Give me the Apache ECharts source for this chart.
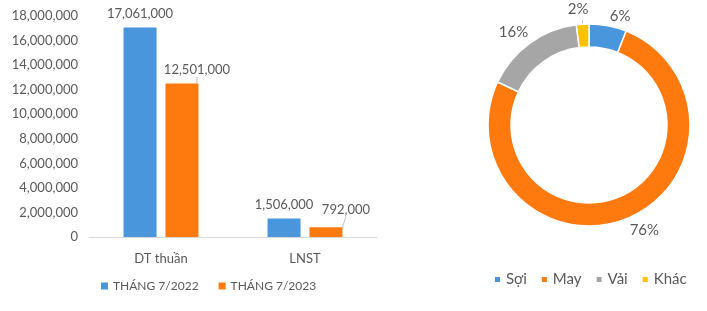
<!DOCTYPE html>
<html><head><meta charset="utf-8">
<script src="https://cdn.jsdelivr.net/npm/echarts@6/dist/echarts.min.js"></script>
<style>html,body{margin:0;padding:0;background:#fff}#c{width:707px;height:311px}</style>
</head><body><div id="c"></div>
<script>
const categories = ['DT thuần', 'LNST'];
const seriesNames = ['THÁNG 7/2022', 'THÁNG 7/2023'];
const values2022 = [17061000, 1506000];
const values2023 = [12501000, 792000];
const yTicks = [0, 2000000, 18000000];
const pieNames = ['Sợi', 'May', 'Vải', 'Khác'];
const pieValues = [6, 76, 16, 2];

const blue = '#4A96DC', orange = '#FF7A0E', gray = '#A6A6A6', yellow = '#FFC000';
const txt = '#595959';
const font = 'Lato';
const fmt = v => v.toLocaleString('en-US');
const pieShift = [{ dx: -4, dy: -6 }, { dx: -3, dy: 8 }, { dx: 6, dy: -8 }, { dx: 11, dy: -11 }];

const chart = echarts.init(document.getElementById('c'));
chart.setOption({
  animation: false,
  textStyle: { fontFamily: font },
  legend: [{
    data: seriesNames, left: 96, top: 275, itemWidth: 7, itemHeight: 7, itemGap: 20,
    textStyle: { color: txt, fontSize: 12, fontFamily: font }, icon: 'rect'
  }, {
    data: pieNames, left: 488, top: 267, itemWidth: 7, itemHeight: 7, itemGap: 13,
    textStyle: { color: txt, fontSize: 15, fontFamily: font }, icon: 'rect'
  }],
  grid: { left: 89, right: 330, top: 16, bottom: 74 },
  xAxis: {
    type: 'category', data: categories,
    axisLine: { lineStyle: { color: '#D9D9D9' } }, axisTick: { show: false },
    axisLabel: { color: txt, fontSize: 13, margin: 15, fontFamily: font }
  },
  yAxis: {
    type: 'value', min: yTicks[0], max: yTicks[2], interval: yTicks[1],
    splitLine: { show: false }, axisLine: { show: false }, axisTick: { show: false },
    axisLabel: { color: txt, fontSize: 13, margin: 11, formatter: fmt, fontFamily: font }
  },
  series: [{
    name: seriesNames[0], type: 'bar', data: values2022, barWidth: 33, barGap: '27%',
    itemStyle: { color: blue },
    label: { show: true, position: 'top', color: txt, fontSize: 13, distance: 7, formatter: p => fmt(p.value), fontFamily: font }
  }, {
    name: seriesNames[1], type: 'bar', data: values2023, barWidth: 33,
    itemStyle: { color: orange },
    label: { show: true, position: 'top', color: txt, fontSize: 13, distance: 7, formatter: p => fmt(p.value), fontFamily: font },
    labelLine: { show: true, lineStyle: { color: '#BFBFBF' } },
    labelLayout: p => p.dataIndex === 0 ? { dx: 15, dy: 0 } : { dx: 20, dy: -4 }
  }, {
    type: 'pie', center: [589, 125], radius: [78, 101], startAngle: 90, clockwise: true,
    data: pieNames.map((n, i) => ({ name: n, value: pieValues[i], labelLine: { show: i === 3 } })),
    color: [blue, orange, gray, yellow],
    itemStyle: { borderColor: '#fff', borderWidth: 1.5 },
    label: { show: true, position: 'outside', color: txt, fontSize: 15, formatter: '{c}%', fontFamily: font },
    labelLine: { length: 4, length2: 0, lineStyle: { color: '#BFBFBF' } },
    labelLayout: p => pieShift[p.dataIndex]
  }]
});
</script></body></html>
